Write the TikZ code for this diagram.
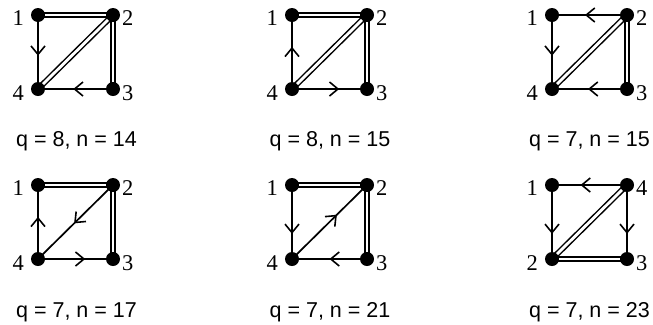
\documentclass[tikz,border=0pt]{standalone}
\usepackage{fontspec}
\newfontfamily\sansf{Liberation Sans}
\newfontfamily\seriff{Liberation Serif}
\usetikzlibrary{arrows.meta,decorations.markings,backgrounds}
\tikzset{
  dot/.style={circle, fill=black, inner sep=0pt, minimum size=14bp},
  lab/.style={font=\seriff\fontsize{22.5bp}{24bp}\selectfont, inner sep=0pt},
  qn/.style={font=\sansf\fontsize{21.5bp}{24bp}\selectfont, inner sep=0pt, anchor=base},
  dbl/.style={double=white, double distance=2.8bp, line width=1.5bp},
  sgl/.style={line width=1.7bp},
  arr/.style={sgl, postaction={decorate}, decoration={markings,
      mark=at position #1 with {\arrow{Straight Barb[length=8.5bp,width=14bp,line width=1.6bp]}}}}
}
\begin{document}
\begin{tikzpicture}[x=1bp,y=-1bp]
\useasboundingbox (0,0) rectangle (653,324);
% ---------- graph A ----------
\node[dot] (A1) at (38,15) {};
\node[dot] (A2) at (113,15) {};
\node[dot] (A3) at (113,89) {};
\node[dot] (A4) at (38,89) {};
\node[lab, anchor=base east] (A1l) at (24,25.5) {1};
\node[lab, anchor=base west] (A2l) at (122,25.5) {2};
\node[lab, anchor=base west] (A3l) at (122,100) {3};
\node[lab, anchor=base east] (A4l) at (24,100) {4};
\node[qn] (Aq) at (76.5,146) {q = 8, n = 14};
% ---------- graph B ----------
\node[dot] (B1) at (292,15) {};
\node[dot] (B2) at (367,15) {};
\node[dot] (B3) at (367,89) {};
\node[dot] (B4) at (292,89) {};
\node[lab, anchor=base east] (B1l) at (278,25.5) {1};
\node[lab, anchor=base west] (B2l) at (376,25.5) {2};
\node[lab, anchor=base west] (B3l) at (376,100) {3};
\node[lab, anchor=base east] (B4l) at (278,100) {4};
\node[qn] (Bq) at (330,146) {q = 8, n = 15};
% ---------- graph C ----------
\node[dot] (C1) at (552,15) {};
\node[dot] (C2) at (627,15) {};
\node[dot] (C3) at (627,89) {};
\node[dot] (C4) at (552,89) {};
\node[lab, anchor=base east] (C1l) at (538,25.5) {1};
\node[lab, anchor=base west] (C2l) at (636,25.5) {2};
\node[lab, anchor=base west] (C3l) at (636,100) {3};
\node[lab, anchor=base east] (C4l) at (538,100) {4};
\node[qn] (Cq) at (589.5,146) {q = 7, n = 15};
% ---------- graph D ----------
\node[dot] (D1) at (38,185) {};
\node[dot] (D2) at (113,185) {};
\node[dot] (D3) at (113,259) {};
\node[dot] (D4) at (38,259) {};
\node[lab, anchor=base east] (D1l) at (24,195.5) {1};
\node[lab, anchor=base west] (D2l) at (122,195.5) {2};
\node[lab, anchor=base west] (D3l) at (122,270) {3};
\node[lab, anchor=base east] (D4l) at (24,270) {4};
\node[qn] (Dq) at (76.5,317) {q = 7, n = 17};
% ---------- graph E ----------
\node[dot] (E1) at (292,185) {};
\node[dot] (E2) at (367,185) {};
\node[dot] (E3) at (367,259) {};
\node[dot] (E4) at (292,259) {};
\node[lab, anchor=base east] (E1l) at (278,195.5) {1};
\node[lab, anchor=base west] (E2l) at (376,195.5) {2};
\node[lab, anchor=base west] (E3l) at (376,270) {3};
\node[lab, anchor=base east] (E4l) at (278,270) {4};
\node[qn] (Eq) at (330,317) {q = 7, n = 21};
% ---------- graph F ----------
\node[dot] (F1) at (552,185) {};
\node[dot] (F4) at (627,185) {};
\node[dot] (F3) at (627,259) {};
\node[dot] (F2) at (552,259) {};
\node[lab, anchor=base east] (F1l) at (538,195.5) {1};
\node[lab, anchor=base west] (F4l) at (636,195.5) {4};
\node[lab, anchor=base west] (F3l) at (636,270) {3};
\node[lab, anchor=base east] (F2l) at (538,270) {2};
\node[qn] (Fq) at (589.5,317) {q = 7, n = 23};
\begin{pgfonlayer}{background}
% A
\draw[dbl] (A1.center) -- (A2.center);
\draw[dbl] (A2.center) -- (A4.center);
\draw[dbl] (A2.center) -- (A3.center);
\draw[arr=0.55] (A1.center) -- (A4.center);
\draw[arr=0.53] (A3.center) -- (A4.center);
% B
\draw[dbl] (B1.center) -- (B2.center);
\draw[dbl] (B2.center) -- (B4.center);
\draw[dbl] (B2.center) -- (B3.center);
\draw[arr=0.57] (B4.center) -- (B1.center);
\draw[arr=0.63] (B4.center) -- (B3.center);
% C
\draw[dbl] (C2.center) -- (C4.center);
\draw[dbl] (C2.center) -- (C3.center);
\draw[arr=0.56] (C2.center) -- (C1.center);
\draw[arr=0.55] (C1.center) -- (C4.center);
\draw[arr=0.52] (C3.center) -- (C4.center);
% D
\draw[dbl] (D1.center) -- (D2.center);
\draw[dbl] (D2.center) -- (D3.center);
\draw[arr=0.57] (D4.center) -- (D1.center);
\draw[arr=0.52] (D2.center) -- (D4.center);
\draw[arr=0.63] (D4.center) -- (D3.center);
% E
\draw[dbl] (E1.center) -- (E2.center);
\draw[dbl] (E2.center) -- (E3.center);
\draw[arr=0.66] (E1.center) -- (E4.center);
\draw[arr=0.6] (E4.center) -- (E2.center);
\draw[arr=0.5] (E3.center) -- (E4.center);
% F
\draw[dbl] (F4.center) -- (F2.center);
\draw[dbl] (F2.center) -- (F3.center);
\draw[arr=0.62] (F4.center) -- (F1.center);
\draw[arr=0.66] (F1.center) -- (F2.center);
\draw[arr=0.66] (F4.center) -- (F3.center);
\end{pgfonlayer}
\end{tikzpicture}
\end{document}
